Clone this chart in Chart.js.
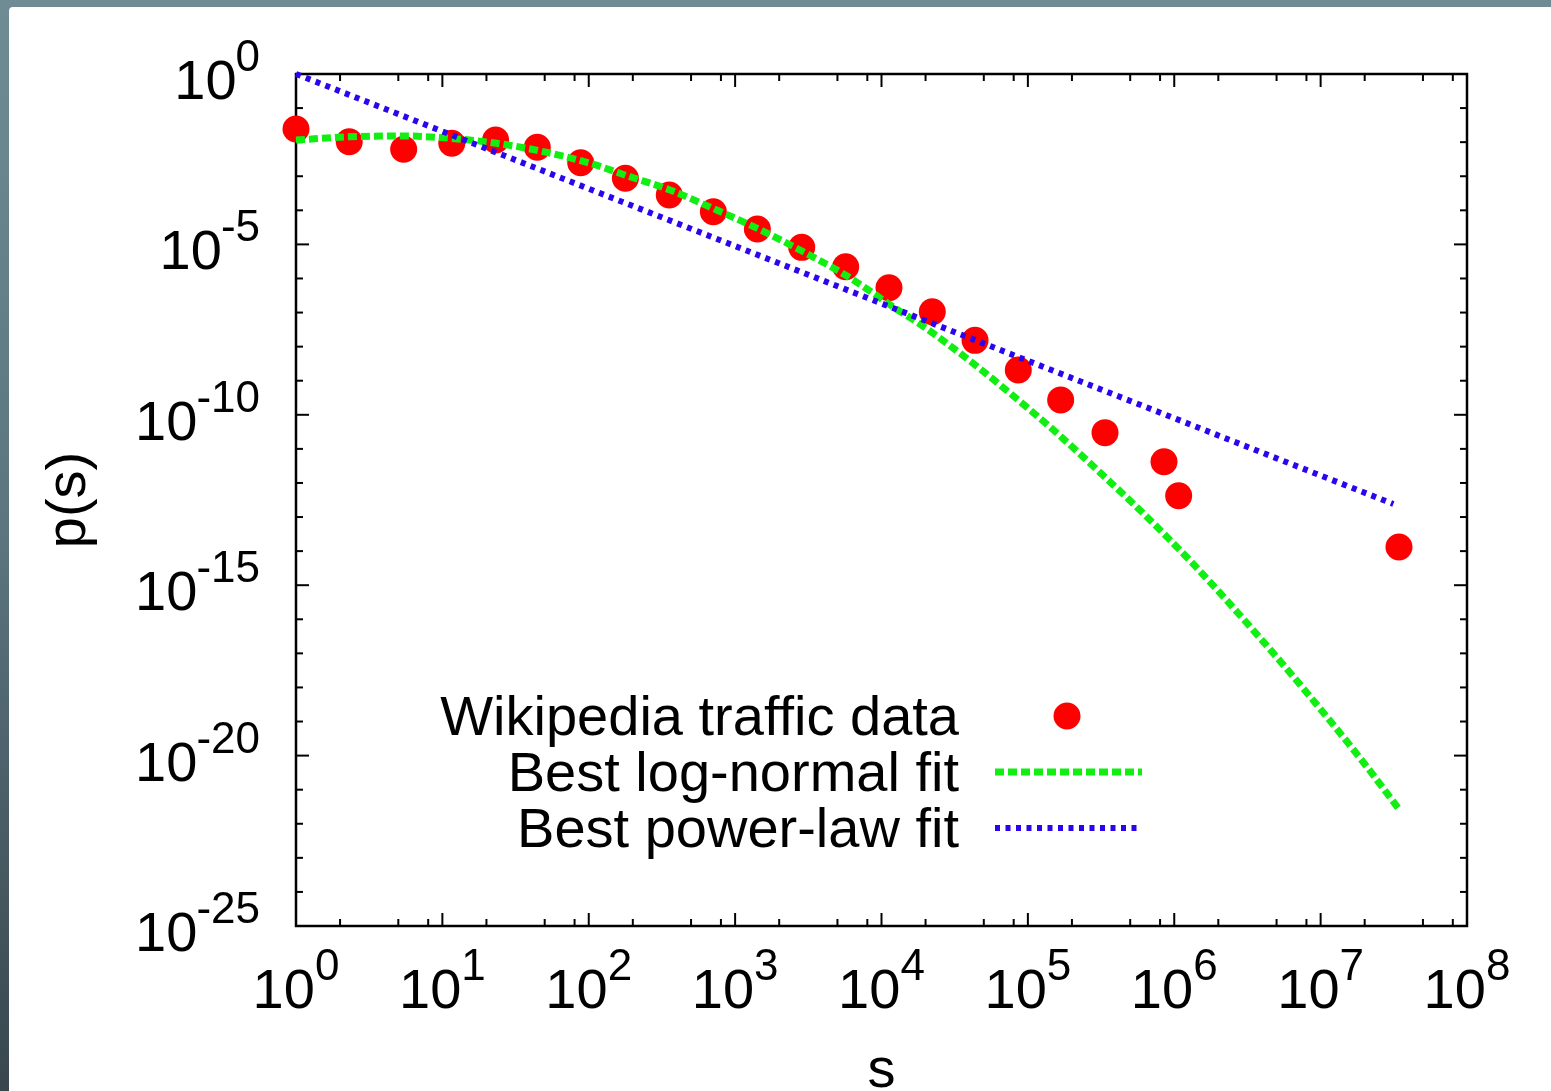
<!DOCTYPE html>
<html>
<head>
<meta charset="utf-8">
<title>p(s)</title>
<script src="https://cdn.jsdelivr.net/npm/chart.js@4.4.1/dist/chart.umd.min.js"></script>
<style>
  html, body { margin: 0; padding: 0; width: 1551px; height: 1091px; overflow: hidden; }
  body { position: relative; background: linear-gradient(to bottom, #6f8c95 0%, #5b747d 50%, #39464e 100%); }
  #sheet { position: absolute; left: 9px; top: 7px; right: 0; bottom: 0; background: #fff; border-top-left-radius: 4px; }
  #chart { position: absolute; left: 0; top: 0; }
</style>
</head>
<body>
<div id="sheet"></div>
<canvas id="chart" width="1551" height="1091"></canvas>
<script>
// measured page-view distribution
const trafficS = [1, 2.31, 5.44, 11.6, 23.1, 44.5, 88.1, 178, 355, 710, 1419, 2851, 5692,
  11250, 22230, 43550, 86000, 167500, 336500, 851000, 1.072e6, 3.43e7];
const trafficP = [2.43e-2, 1.03e-2, 6.18e-3, 9.27e-3, 1.16e-2, 7.06e-3, 2.50e-3, 8.71e-4,
  2.82e-4, 9.12e-5, 2.83e-5, 8.20e-6, 2.22e-6, 5.36e-7, 1.06e-7, 1.53e-8, 2.06e-9,
  2.72e-10, 2.99e-11, 4.21e-12, 4.23e-13, 1.32e-14];

// log-normal fit curve
const logNormalS = [1, 2.34, 5.41, 11.3, 23.5, 49.0, 102, 191, 359, 748, 1479, 2773, 5781,
  8790, 12700, 18320, 40270, 75510, 157400, 327300, 648600, 1.282e6, 2.28e6, 6.5e6,
  1.858e7, 3.4e7];
const logNormalP = [1.156e-2, 1.445e-2, 1.517e-2, 1.297e-2, 9.27e-3, 5.25e-3, 2.40e-3,
  9.70e-4, 3.94e-4, 1.02e-4, 2.70e-5, 6.85e-6, 1.20e-6, 3.67e-7, 1.25e-7, 4.60e-8,
  3.80e-9, 4.30e-10, 2.95e-11, 1.65e-12, 1.02e-13, 5.25e-15, 3.60e-16, 2.09e-18,
  8.50e-21, 2.82e-22];

// power-law fit (straight in log-log)
const powerLawS = [1, 3.14e7];
const powerLawP = [1, 2.41e-13];

// axes
const xDecades = [1, 1e1, 1e2, 1e3, 1e4, 1e5, 1e6, 1e7, 1e8];
const xExponents = ['0', '1', '2', '3', '4', '5', '6', '7', '8'];
const xMinorFactors = [2, 5, 8];
const yMajorTicks = [1, 1e-5, 1e-10, 1e-15, 1e-20, 1e-25];
const yExponents = ['0', '-5', '-10', '-15', '-20', '-25'];

const seriesLabels = ['Wikipedia traffic data', 'Best log-normal fit', 'Best power-law fit'];
const xTitle = 's';
const yTitle = 'p(s)';

const FONT = '"Liberation Sans", Arial, Helvetica, sans-serif';
const RED = '#ff0000';
const GREEN = '#11ee11';
const BLUE = '#2a06ee';

function points(xs, ys) {
  return xs.map((v, i) => ({ x: v, y: ys[i] }));
}

// border, inward ticks on all sides, labels and the key
const gnuplotFrame = {
  id: 'gnuplotFrame',
  beforeDatasetsDraw(chart) {
    const ctx = chart.ctx;
    const a = chart.chartArea;
    const sx = chart.scales.x;
    const sy = chart.scales.y;

    ctx.save();
    ctx.strokeStyle = '#000';
    ctx.lineWidth = 2;
    const line = (x1, y1, x2, y2) => {
      ctx.beginPath();
      ctx.moveTo(x1, y1);
      ctx.lineTo(x2, y2);
      ctx.stroke();
    };

    xDecades.forEach((d, i) => {
      const px = sx.getPixelForValue(d);
      line(px, a.bottom, px, a.bottom - 13);
      line(px, a.top, px, a.top + 13);
      if (i < xDecades.length - 1) {
        xMinorFactors.forEach(f => {
          const mx = sx.getPixelForValue(d * f);
          line(mx, a.bottom, mx, a.bottom - 7);
          line(mx, a.top, mx, a.top + 7);
        });
      }
    });

    for (let k = 0; k <= 25; k++) {
      const py = sy.getPixelForValue(Math.pow(10, -k));
      const len = k % 5 === 0 ? 13 : 7;
      line(a.left, py, a.left + len, py);
      line(a.right, py, a.right - len, py);
    }

    ctx.lineWidth = 2.5;
    ctx.strokeRect(a.left, a.top, a.right - a.left, a.bottom - a.top);

    // tick labels: 10 with a raised exponent
    ctx.fillStyle = '#000';
    ctx.textBaseline = 'alphabetic';
    const baseFont = '56px ' + FONT;
    const supFont = '44px ' + FONT;

    yMajorTicks.forEach((v, i) => {
      const py = sy.getPixelForValue(v);
      const right = a.left - 36;
      ctx.font = supFont;
      const supW = ctx.measureText(yExponents[i]).width;
      ctx.textAlign = 'right';
      ctx.fillText(yExponents[i], right, py - 3);
      ctx.font = baseFont;
      ctx.fillText('10', right - supW + 1, py + 25);
    });

    xDecades.forEach((v, i) => {
      const px = sx.getPixelForValue(v);
      ctx.font = baseFont;
      const baseW = ctx.measureText('10').width;
      ctx.font = supFont;
      const supW = ctx.measureText(xExponents[i]).width;
      const start = px - (baseW + supW) / 2;
      ctx.textAlign = 'left';
      ctx.font = baseFont;
      ctx.fillText('10', start, a.bottom + 82);
      ctx.font = supFont;
      ctx.fillText(xExponents[i], start + baseW, a.bottom + 54);
    });

    // axis titles
    ctx.font = baseFont;
    ctx.textAlign = 'center';
    ctx.fillText(xTitle, (a.left + a.right) / 2, a.bottom + 161);
    ctx.save();
    ctx.translate(a.left - 211, (a.top + a.bottom) / 2);
    ctx.rotate(-Math.PI / 2);
    ctx.fillText(yTitle, 0, 0);
    ctx.restore();

    ctx.restore();
  },
  afterDatasetsDraw(chart) {
    const ctx = chart.ctx;
    const a = chart.chartArea;
    const ds = chart.data.datasets;
    const rows = [a.top + 642, a.top + 698, a.top + 754];
    const textRight = a.left + 663;
    const sampleL = a.left + 699;
    const sampleR = a.left + 846;

    ctx.save();
    ctx.fillStyle = '#000';
    ctx.font = '56px ' + FONT;
    ctx.textAlign = 'right';
    ctx.textBaseline = 'alphabetic';
    rows.forEach((ry, i) => ctx.fillText(seriesLabels[i], textRight, ry + 19));

    // data marker
    ctx.fillStyle = ds[0].backgroundColor;
    ctx.beginPath();
    ctx.arc(a.left + 771, rows[0], ds[0].pointRadius, 0, Math.PI * 2);
    ctx.fill();

    // fit line samples
    [1, 2].forEach(i => {
      ctx.strokeStyle = ds[i].borderColor;
      ctx.lineWidth = ds[i].borderWidth;
      ctx.setLineDash(ds[i].borderDash);
      ctx.lineCap = 'butt';
      ctx.beginPath();
      ctx.moveTo(sampleL, rows[i]);
      ctx.lineTo(sampleR, rows[i]);
      ctx.stroke();
    });
    ctx.restore();
  }
};

new Chart(document.getElementById('chart'), {
  type: 'scatter',
  data: {
    datasets: [
      {
        label: seriesLabels[0],
        data: points(trafficS, trafficP),
        showLine: false,
        pointRadius: 13.5,
        pointHoverRadius: 13.5,
        backgroundColor: RED,
        borderWidth: 0,
        clip: false,
        order: 3
      },
      {
        label: seriesLabels[1],
        data: points(logNormalS, logNormalP),
        showLine: true,
        pointRadius: 0,
        borderColor: GREEN,
        borderWidth: 7,
        borderDash: [9, 4],
        borderCapStyle: 'butt',
        cubicInterpolationMode: 'monotone',
        clip: false,
        order: 2
      },
      {
        label: seriesLabels[2],
        data: points(powerLawS, powerLawP),
        showLine: true,
        pointRadius: 0,
        borderColor: BLUE,
        borderWidth: 6,
        borderDash: [5, 5.5],
        borderCapStyle: 'butt',
        clip: false,
        order: 1
      }
    ]
  },
  options: {
    responsive: false,
    animation: false,
    layout: {
      autoPadding: false,
      padding: { left: 296, top: 74, right: 84, bottom: 165 }
    },
    plugins: {
      legend: { display: false },
      tooltip: { enabled: false }
    },
    scales: {
      x: { type: 'logarithmic', min: 1, max: 1e8, display: false },
      y: { type: 'logarithmic', min: 1e-25, max: 1, display: false }
    }
  },
  plugins: [gnuplotFrame]
});
</script>
</body>
</html>
